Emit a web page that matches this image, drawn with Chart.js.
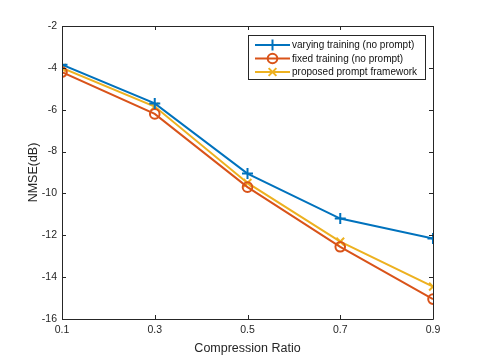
<!DOCTYPE html>
<html>
<head>
<meta charset="utf-8">
<script src="https://cdn.jsdelivr.net/npm/chart.js@4/dist/chart.umd.min.js"></script>
<style>
  html, body { margin: 0; padding: 0; background: #fff; }
  #wrap { width: 478px; height: 359px; }
</style>
</head>
<body>
<div id="wrap"><canvas id="nmseChart" width="478" height="359"></canvas></div>
<script>
const RATIOS = [0.1, 0.3, 0.5, 0.7, 0.9];
const VARYING = [-3.85, -5.7, -9.05, -11.2, -12.15];
const FIXED = [-4.2, -6.2, -9.7, -12.55, -15.05];
const PROMPT = [-4.0, -5.85, -9.5, -12.3, -14.45];
const X_TICKS = [0.1, 0.3, 0.5, 0.7, 0.9];
const Y_TICKS = [-16, -14, -12, -10, -8, -6, -4, -2];

const AXIS_COLOR = "#262626";
const FONT = "'Liberation Sans', Arial, Helvetica, sans-serif";

const SERIES = [
  { label: "varying training (no prompt)", data: VARYING, color: "#0072BD", style: "cross", radius: 5.5 },
  { label: "fixed training (no prompt)", data: FIXED, color: "#D95319", style: "circle", radius: 4.8 },
  { label: "proposed prompt framework", data: PROMPT, color: "#EDB120", style: "crossRot", radius: 5.5 },
];

// box + inward ticks on all four sides, MATLAB style
const boxTicks = {
  id: "boxTicks",
  afterDatasetsDraw(chart) {
    const { ctx, chartArea: a, scales } = chart;
    const len = 4;
    ctx.save();
    ctx.strokeStyle = AXIS_COLOR;
    ctx.lineWidth = 1;
    ctx.beginPath();
    ctx.rect(Math.round(a.left) + 0.5, Math.round(a.top) + 0.5,
      Math.round(a.right - a.left), Math.round(a.bottom - a.top));
    for (const v of X_TICKS) {
      const x = Math.round(scales.x.getPixelForValue(v)) + 0.5;
      ctx.moveTo(x, a.bottom); ctx.lineTo(x, a.bottom - len);
      ctx.moveTo(x, a.top); ctx.lineTo(x, a.top + len);
    }
    for (const v of Y_TICKS) {
      const y = Math.round(scales.y.getPixelForValue(v)) + 0.5;
      ctx.moveTo(a.left, y); ctx.lineTo(a.left + len, y);
      ctx.moveTo(a.right, y); ctx.lineTo(a.right - len, y);
    }
    ctx.stroke();
    ctx.restore();
  },
};

// legend box inside the plot, top-right
const insideLegend = {
  id: "insideLegend",
  afterDraw(chart) {
    const { ctx } = chart;
    const x0 = 248, y0 = 35, w = 177, h = 44;
    ctx.save();
    ctx.fillStyle = "#fff";
    ctx.fillRect(x0, y0, w, h);
    ctx.strokeStyle = AXIS_COLOR;
    ctx.lineWidth = 1;
    ctx.strokeRect(x0 + 0.5, y0 + 0.5, w, h);
    ctx.font = "10px " + FONT;
    ctx.textBaseline = "middle";
    SERIES.forEach((s, i) => {
      const y = y0 + 10 + i * 13.5;
      ctx.strokeStyle = s.color;
      ctx.lineWidth = 2;
      ctx.beginPath();
      ctx.moveTo(x0 + 7, y);
      ctx.lineTo(x0 + 42, y);
      ctx.stroke();
      ctx.fillStyle = "rgba(0,0,0,0)";
      Chart.helpers.drawPoint(ctx, {
        pointStyle: s.style,
        radius: s.radius,
        borderWidth: 2,
        rotation: 0,
      }, x0 + 24.5, y);
      ctx.fillStyle = "#111";
      ctx.fillText(s.label, x0 + 44, y + 0.5);
    });
    ctx.restore();
  },
};

const datasets = SERIES.map((s) => ({
  label: s.label,
  data: RATIOS.map((r, i) => ({ x: r, y: s.data[i] })),
  borderColor: s.color,
  backgroundColor: "rgba(0,0,0,0)",
  borderWidth: 2,
  pointStyle: s.style,
  pointRadius: s.radius,
  pointBorderWidth: 2,
  pointBorderColor: s.color,
  pointBackgroundColor: "rgba(0,0,0,0)",
  tension: 0,
  fill: false,
}));

new Chart(document.getElementById("nmseChart"), {
  type: "line",
  data: { datasets },
  options: {
    animation: false,
    responsive: false,
    events: [],
    layout: { padding: { left: 26, right: 45, top: 26, bottom: 0 } },
    plugins: { legend: { display: false }, tooltip: { enabled: false } },
    scales: {
      x: {
        type: "linear",
        min: 0.1,
        max: 0.9,
        afterBuildTicks: (scale) => { scale.ticks = X_TICKS.map((v) => ({ value: v })); },
        afterFit: (scale) => { scale.height = 40; },
        grid: { display: false, drawTicks: false },
        border: { display: false },
        ticks: {
          color: AXIS_COLOR,
          font: { family: FONT, size: 10.5 },
          padding: 5,
          maxRotation: 0,
          callback: (v) => v.toFixed(1),
        },
        title: {
          display: true,
          text: "Compression Ratio",
          color: AXIS_COLOR,
          font: { family: FONT, size: 12.5 },
          padding: { top: 2, bottom: 3 },
        },
      },
      y: {
        type: "linear",
        min: -16,
        max: -2,
        afterBuildTicks: (scale) => { scale.ticks = Y_TICKS.map((v) => ({ value: v })); },
        afterFit: (scale) => { scale.width = 36; },
        grid: { display: false, drawTicks: false },
        border: { display: false },
        ticks: {
          color: AXIS_COLOR,
          font: { family: FONT, size: 10.5 },
          padding: 5,
          callback: (v) => String(v),
        },
        title: {
          display: true,
          text: "NMSE(dB)",
          color: AXIS_COLOR,
          font: { family: FONT, size: 12.5 },
          padding: { top: 0, bottom: 0 },
        },
      },
    },
  },
  plugins: [boxTicks, insideLegend],
});
</script>
</body>
</html>
